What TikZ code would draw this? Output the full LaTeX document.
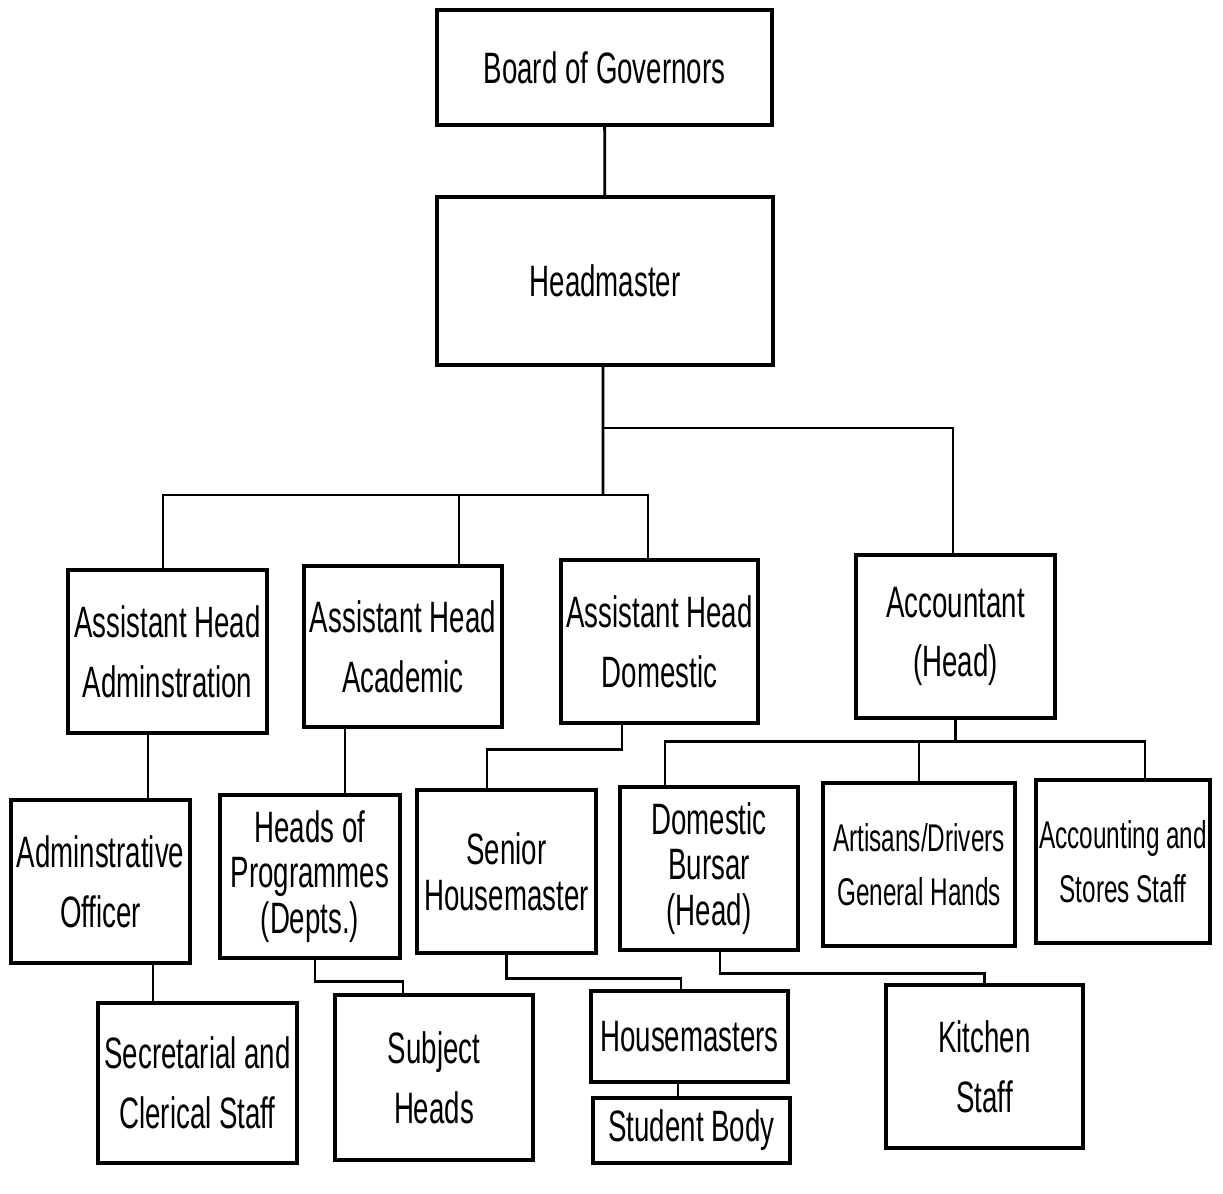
\documentclass[tikz,border=0pt]{standalone}
\usepackage{fontspec}
\setmainfont{Liberation Sans}[FakeStretch=0.63]

\begin{document}
\begin{tikzpicture}[x=0.02cm, y=-0.02cm]
        \tikzstyle{post}=[draw, line width=2pt, inner sep=0pt, align=center, font=\fontsize{25}{34}\selectfont]
        \tikzstyle{tight post}=[post, font=\fontsize{25}{26}\selectfont]
        \tikzstyle{wide post}=[post, font=\fontsize{22}{31}\selectfont]
        \tikzstyle{link}=[line width=1.6pt]

        \useasboundingbox (0,0) rectangle (1223,1193);

        % Draw the top of the school
        \node[post, minimum width=6.7cm, minimum height=2.3cm] (gov) at (604.5,67.5) {Board of Governors};
        \node[post, minimum width=6.72cm, minimum height=3.36cm] (head) at (605,281) {Headmaster};

        % Draw the assistant heads and the accountant
        \node[post, minimum width=3.98cm, minimum height=3.26cm] (ahadm) at (167.5,651.5) {Assistant Head\\Adminstration};
        \node[post, minimum width=3.96cm, minimum height=3.22cm] (ahacad) at (403,646.5) {Assistant Head\\Academic};
        \node[post, minimum width=3.94cm, minimum height=3.26cm] (ahdom) at (659.5,641.5) {Assistant Head\\Domestic};
        \node[post, minimum width=3.98cm, minimum height=3.26cm] (acct) at (955.5,636.5) {Accountant\\(Head)};

        % Draw the second row
        \node[post, minimum width=3.58cm, minimum height=3.26cm] (admoff) at (100.5,881.5) {Adminstrative\\Officer};
        \node[tight post, minimum width=3.6cm, minimum height=3.26cm] (hop) at (310,876.5) {Heads of\\Programmes\\(Depts.)};
        \node[tight post, minimum width=3.58cm, minimum height=3.26cm] (senior) at (506.5,871.5) {Senior\\Housemaster};
        \node[tight post, minimum width=3.56cm, minimum height=3.26cm] (bursar) at (709,868.5) {Domestic\\Bursar\\(Head)};
        \node[wide post, minimum width=3.84cm, minimum height=3.26cm] (artisans) at (919,864.5) {Artisans/Drivers\\General Hands};
        \node[wide post, minimum width=3.48cm, minimum height=3.26cm] (stores) at (1123,861.5) {Accounting and\\Stores Staff};

        % Draw the bottom row
        \node[post, minimum width=3.98cm, minimum height=3.2cm] (secret) at (197.5,1083) {Secretarial and\\Clerical Staff};
        \node[post, minimum width=3.96cm, minimum height=3.3cm] (subj) at (434,1077.5) {Subject\\Heads};
        \node[post, minimum width=3.94cm, minimum height=1.82cm] (hmasters) at (689.5,1036.5) {Housemasters};
        \node[post, minimum width=3.94cm, minimum height=1.3cm] (student) at (691.5,1130.5) {Student Body};
        \node[post, minimum width=3.94cm, minimum height=3.26cm] (kitchen) at (984.5,1066.5) {Kitchen\\Staff};

        % Connect the headmaster with the row below
        \coordinate (accbar) at (603,428);
        \coordinate (asbar) at (603,495);
        \draw[link] (gov) -- (head);
        \draw[link] ([xshift=-0.04cm]head.south) -- (asbar);
        \draw[link] (accbar) -| ([xshift=-0.05cm]acct.north);
        \draw[link] ([xshift=-0.09cm]ahadm.north) |- (asbar) -| ([xshift=-0.23cm]ahdom.north);
        \draw[link] ([xshift=1.12cm]ahacad.north) -- ([xshift=1.12cm]ahacad.north |- asbar);

        % Connect the assistant heads with the second row
        \draw[link] ([xshift=-0.39cm]ahadm.south) -- ([xshift=-0.39cm]ahadm.south |- admoff.north);
        \draw[link] ([xshift=-1.16cm]ahacad.south) -- ([xshift=-1.16cm]ahacad.south |- hop.north);
        \draw[link] ([xshift=-0.75cm]ahdom.south) -- ++(0,25) -| ([xshift=-0.39cm]senior.north);
        \draw[link] (acct.south) -- ++(0,22) coordinate (stbar);
        \draw[link] ([xshift=-0.88cm]bursar.north) |- (stbar) -| ([xshift=0.44cm]stores.north);
        \draw[link] (artisans.north) -- (artisans.north |- stbar);

        % Connect the second row with the bottom row
        \draw[link] ([xshift=1.05cm]admoff.south) -- ([xshift=1.05cm]admoff.south |- secret.north);
        \draw[link] ([xshift=0.1cm]hop.south) -- ++(0,22) -| ([xshift=-0.62cm]subj.north);
        \draw[link] (senior.south) -- ++(0,24) -| ([xshift=-0.17cm]hmasters.north);
        \draw[link] ([xshift=0.22cm]bursar.south) -- ++(0,22) -| (kitchen.north);
        \draw[link] ([xshift=-0.23cm]hmasters.south) -- ([xshift=-0.23cm]hmasters.south |- student.north);

\end{tikzpicture}
\end{document}
